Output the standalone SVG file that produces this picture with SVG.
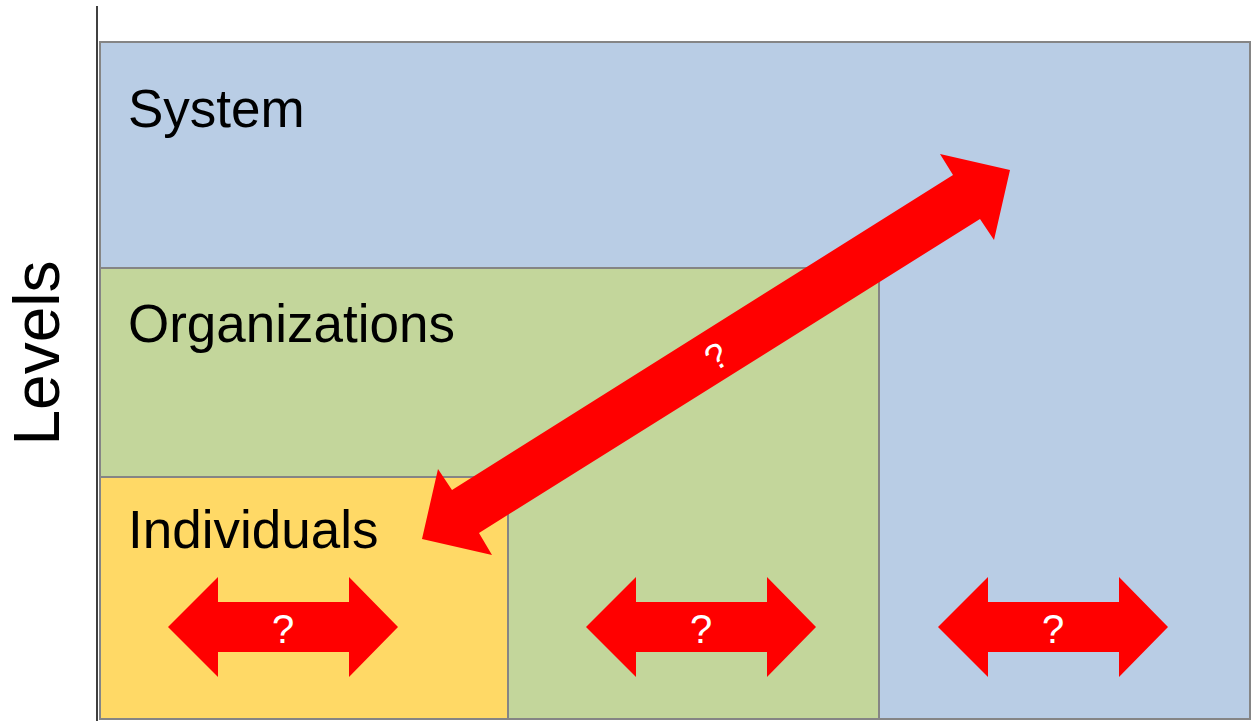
<svg xmlns="http://www.w3.org/2000/svg" width="1257" height="721" viewBox="0 0 1257 721">
<style>
.box{stroke:#858585;stroke-width:2}
.lbl{font-family:"Liberation Sans",Arial,sans-serif;font-size:53px;fill:#000}
.q{font-family:"Liberation Sans",Arial,sans-serif;font-size:40px;fill:#fff;text-anchor:middle}
.arr{fill:#ff0000}
</style>
<defs>
<polygon id="harrow" points="-115,0 -65,-50 -65,-25 66,-25 66,-50 115,0 66,50 66,25 -65,25 -65,50"/>
</defs>
<rect width="1257" height="721" fill="#fff"/>
<line x1="97" y1="6" x2="97" y2="721" stroke="#000" stroke-width="1.5"/>
<text class="lbl" transform="translate(59,353) rotate(-90)" text-anchor="middle" style="font-size:64px">Levels</text>
<g id="system">
<rect class="box" x="100" y="42" width="1150" height="677" fill="#b9cde5"/>
<text class="lbl" x="128" y="127">System</text>
</g>
<g id="organizations">
<rect class="box" x="100" y="268" width="779" height="451" fill="#c3d69b"/>
<text class="lbl" x="128" y="342">Organizations</text>
</g>
<g id="individuals">
<rect class="box" x="100" y="477" width="408" height="242" fill="#ffd966"/>
<text class="lbl" x="128" y="548">Individuals</text>
</g>
<g id="connectors">
<g id="diag">
<polygon class="arr" points="422,539 438,469 452,490 953,175 940,154 1010,170 994,240 980,219 479,533 492,555"/>
<text class="q" transform="translate(716,356) rotate(-32)" dy="13" style="font-size:36px">?</text>
</g>
<g id="h1"><use href="#harrow" class="arr" x="283" y="627"/><text class="q" x="283" y="643">?</text></g>
<g id="h2"><use href="#harrow" class="arr" x="701" y="627"/><text class="q" x="701" y="643">?</text></g>
<g id="h3"><use href="#harrow" class="arr" x="1053" y="627"/><text class="q" x="1053" y="643">?</text></g>
</g>
</svg>
